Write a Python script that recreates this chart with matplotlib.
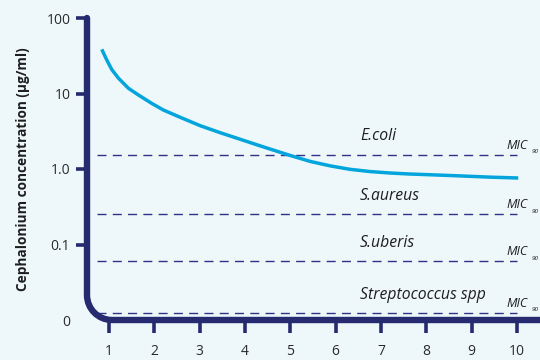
import matplotlib
matplotlib.use("Agg")
import matplotlib.pyplot as plt
from matplotlib.path import Path
from matplotlib.patches import PathPatch

# ---- data ----
days = [0.84, 0.95, 1.06, 1.21, 1.43, 1.65, 1.94, 2.2, 2.57, 3.01, 3.45, 3.89,
        4.33, 4.73, 5.0, 5.44, 5.88, 6.32, 6.76, 7.2, 7.6, 8.53, 9.41, 10.03]
conc = [38.5, 27.8, 20.8, 15.9, 11.7, 9.55, 7.41, 6.04, 4.84, 3.75, 3.03, 2.48,
        2.03, 1.70, 1.51, 1.26, 1.10, 0.99, 0.925, 0.885, 0.86, 0.82, 0.78, 0.76]
organisms = ["E.coli", "S.aureus", "S.uberis", "Streptococcus spp"]
mic90 = [1.55, 0.25, 0.06, 0.0125]
xticks = list(range(1, 11))
yticks = [0.01, 0.1, 1, 10, 100]
ytick_labels = ["0", "0.1", "1.0", "10", "100"]
ylabel = "Cephalonium concentration (µg/ml)"

BG = "#eef8fb"
NAVY = "#262b6f"
DASH = "#2e3388"
CYAN = "#03a5dc"
TXT = "#2a2a2a"

plt.rcParams['font.family'] = ['Open Sans', 'DejaVu Sans']

fig = plt.figure(figsize=(5.4, 3.6), dpi=100, facecolor=BG)
ax = fig.add_axes([87/540, 40/360, 453/540, 302/360])
ax.set_facecolor(BG)
ax.set_yscale('log')
ax.set_xlim(0.514, 10.51)
ax.set_ylim(0.01, 100)

# MIC lines
for org, m in zip(organisms, mic90):
    ax.hlines(m, 0.74, 10.0, colors=DASH, linewidth=1.0, linestyles=(0, (6.5, 4.5)), zorder=2)
    ax.annotate(org, (6.54, m), xytext=(0, 10.2), textcoords='offset points',
                fontsize=11.3, style='italic', color='#1e1e1e', va='baseline', ha='left')
    ax.annotate("MIC", (9.76, m), xytext=(0, 4.3), textcoords='offset points',
                fontsize=9, style='italic', color='#1e1e1e', va='baseline', ha='left',
                annotation_clip=False)
    ax.annotate("90", (9.76, m), xytext=(18.5, 1.0), textcoords='offset points',
                fontsize=4.5, style='italic', color='#1e1e1e', va='baseline', ha='left',
                annotation_clip=False)

# concentration curve
ax.plot(days, conc, color=CYAN, linewidth=2.5, solid_capstyle='butt',
        solid_joinstyle='round', zorder=3)

# custom rounded axis line
for s in ax.spines.values():
    s.set_visible(False)
rx, ry = 25/453, 25/302
k = 0.5523
verts = [(0, 1), (0, ry), (0, ry*(1-k)), (rx*(1-k), 0), (rx, 0), (1.02, 0)]
codes = [Path.MOVETO, Path.LINETO, Path.CURVE4, Path.CURVE4, Path.CURVE4, Path.LINETO]
patch = PathPatch(Path(verts, codes), transform=ax.transAxes, facecolor='none',
                  edgecolor=NAVY, linewidth=4.6, capstyle='round', joinstyle='round',
                  clip_on=False, zorder=4)
ax.add_patch(patch)

ax.set_xticks(xticks)
ax.set_xticklabels([str(x) for x in xticks])
ax.set_yticks(yticks)
ax.set_yticklabels(ytick_labels)
ax.yaxis.set_minor_locator(matplotlib.ticker.NullLocator())
ax.tick_params(axis='both', colors=NAVY, labelcolor=TXT, labelsize=10, width=2.6)
ax.tick_params(axis='y', length=8, pad=4)
ax.tick_params(axis='x', length=9, pad=8)
ax.yaxis.get_major_ticks()[0].tick1line.set_visible(False)

ax.set_ylabel(ylabel, fontsize=9.8, fontweight='bold', color='#1e1e1e', labelpad=12)

fig.savefig("out.png", dpi=100, facecolor=BG)
